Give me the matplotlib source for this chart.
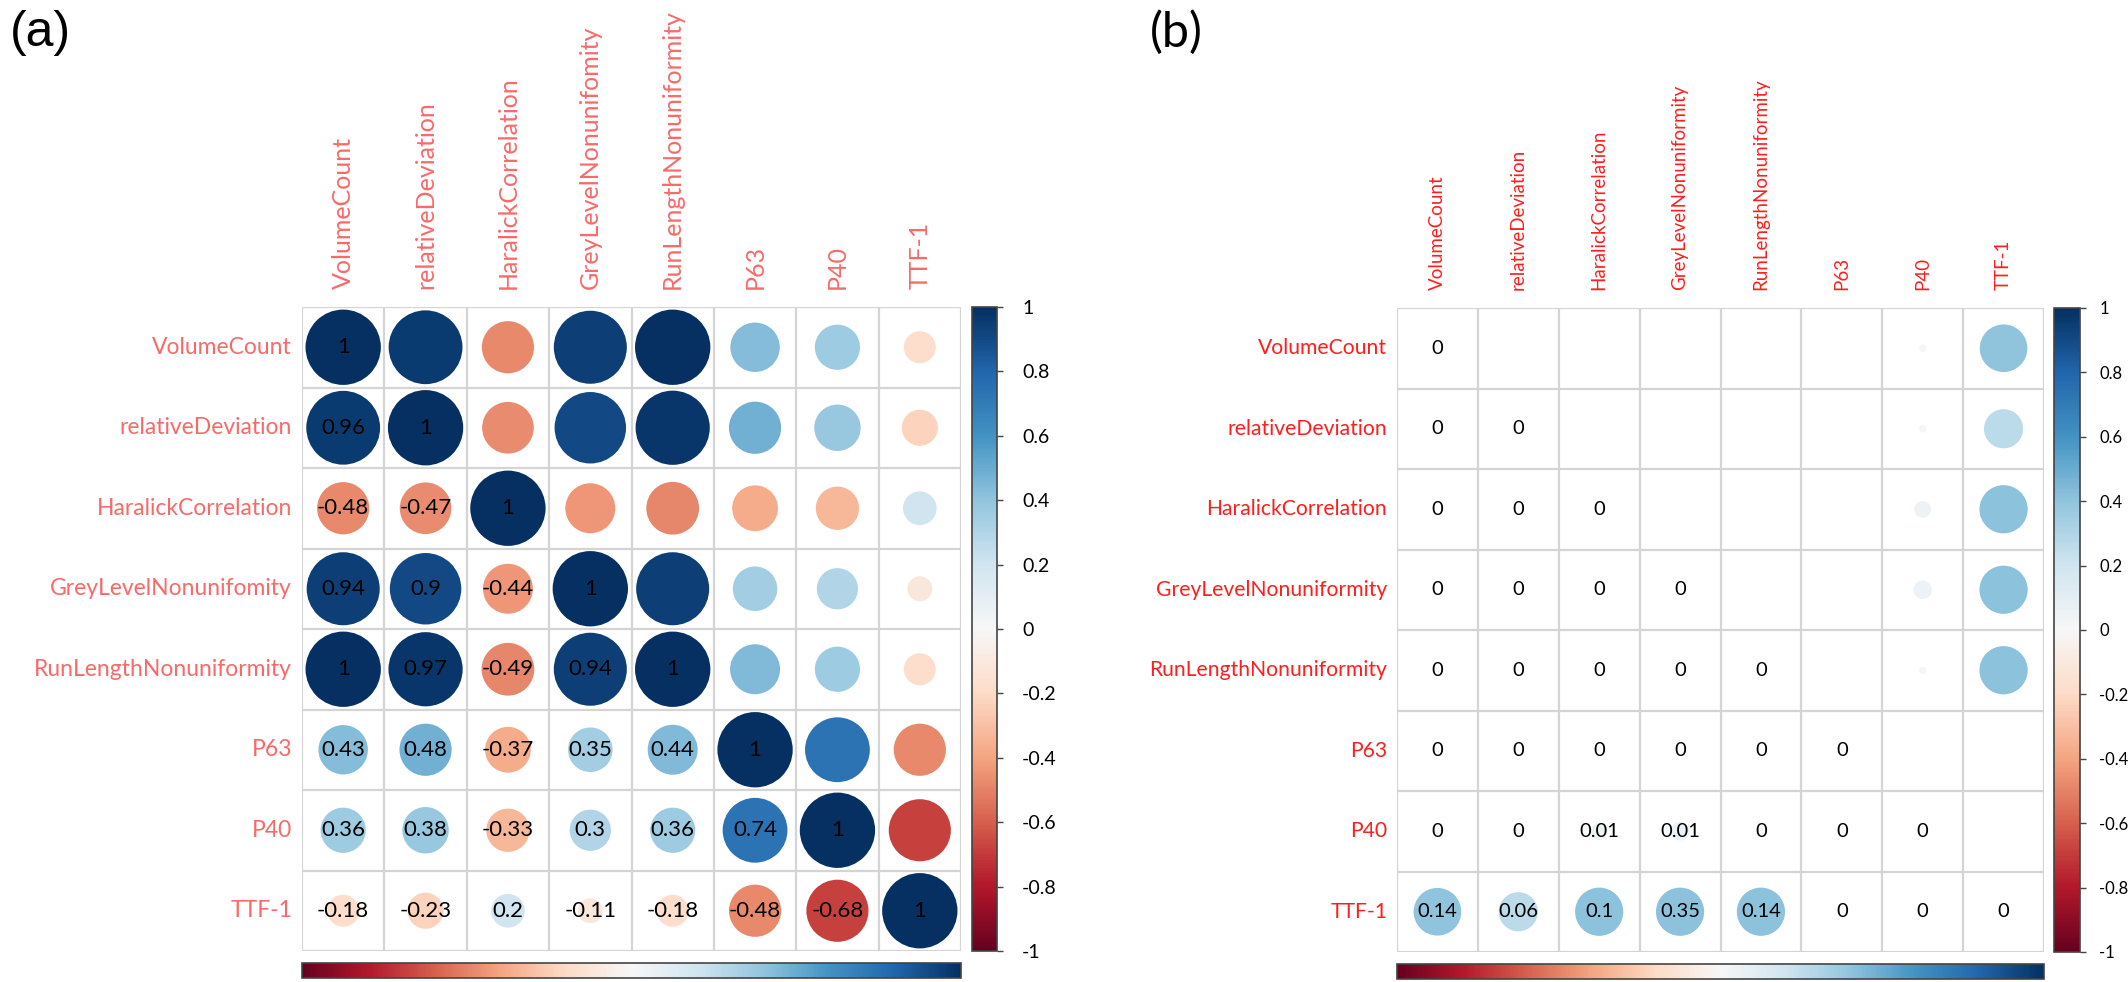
import numpy as np
import matplotlib.pyplot as plt
from matplotlib.colors import Normalize
from matplotlib.colorbar import ColorbarBase

# variable names
labels_a = ['VolumeCount', 'relativeDeviation', 'HaralickCorrelation', 'GreyLevelNonunifomity',
            'RunLengthNonuniformity', 'P63', 'P40', 'TTF-1']
labels_b = ['VolumeCount', 'relativeDeviation', 'HaralickCorrelation', 'GreyLevelNonuniformity',
            'RunLengthNonuniformity', 'P63', 'P40', 'TTF-1']

# (a) correlation coefficients, lower triangle incl. diagonal
corr_rows = [
    [1],
    [0.96, 1],
    [-0.48, -0.47, 1],
    [0.94, 0.9, -0.44, 1],
    [1, 0.97, -0.49, 0.94, 1],
    [0.43, 0.48, -0.37, 0.35, 0.44, 1],
    [0.36, 0.38, -0.33, 0.3, 0.36, 0.74, 1],
    [-0.18, -0.23, 0.2, -0.11, -0.18, -0.48, -0.68, 1],
]

# (b) p-values printed in the cells, lower triangle incl. diagonal
p_rows = [
    [0],
    [0, 0],
    [0, 0, 0],
    [0, 0, 0, 0],
    [0, 0, 0, 0, 0],
    [0, 0, 0, 0, 0, 0],
    [0, 0, 0.01, 0.01, 0, 0, 0],
    [0.14, 0.06, 0.1, 0.35, 0.14, 0, 0, 0],
]

# (b) circle strength (colour / size), lower triangle
p_circle_rows = [
    [0],
    [0, 0],
    [0, 0, 0],
    [0, 0, 0, 0],
    [0, 0, 0, 0, 0],
    [0, 0, 0, 0, 0, 0],
    [0.01, 0.01, 0.05, 0.06, 0.01, 0, 0],
    [0.4, 0.27, 0.41, 0.41, 0.41, 0, 0, 0],
]

cbar_ticks = [1, 0.8, 0.6, 0.4, 0.2, 0, -0.2, -0.4, -0.6, -0.8, -1]


def full_matrix(rows):
    n = len(rows)
    m = np.zeros((n, n))
    for i, r in enumerate(rows):
        for j, v in enumerate(r):
            m[i, j] = v
            m[j, i] = v
    return m


def fmt(v):
    s = ('%.2f' % v).rstrip('0').rstrip('.')
    return '0' if s in ('-0', '') else s


W, H = 2128, 982
fig = plt.figure(figsize=(W / 100, H / 100), dpi=100)
cmap = plt.get_cmap('RdBu')
norm = Normalize(-1, 1)
FONT = ['Lato', 'DejaVu Sans']


def px_box(x0, y0, x1, y1):
    return [x0 / W, 1 - y1 / H, (x1 - x0) / W, (y1 - y0) / H]


def draw_panel(box, mat, circ, labels, lab_color, col_size, row_size, num_size, cell_px):
    ax = fig.add_axes(px_box(*box))
    n = len(labels)
    ax.set_xlim(-0.5, n - 0.5)
    ax.set_ylim(n - 0.5, -0.5)
    for k in range(n + 1):
        ax.axhline(k - 0.5, color='#d4d4d4', lw=1.6, zorder=1)
        ax.axvline(k - 0.5, color='#d4d4d4', lw=1.6, zorder=1)
    ii, jj = np.meshgrid(np.arange(n), np.arange(n), indexing='ij')
    dmax = cell_px * 0.93 * 72 / 100
    ax.scatter(jj.ravel(), ii.ravel(), s=(dmax ** 2) * np.abs(circ.ravel()),
               c=circ.ravel(), cmap=cmap, norm=norm, edgecolors='none', zorder=2)
    for i in range(n):
        for j in range(i + 1):
            ax.text(j, i, fmt(mat[i, j]), ha='center', va='center', fontsize=num_size,
                    family=FONT, color='black', zorder=3)
    ax.set_xticks([])
    ax.set_yticks([])
    for s in ax.spines.values():
        s.set_visible(False)
    for k, lab in enumerate(labels):
        ax.text(k, -0.5 - 0.22, lab, rotation=90, ha='center', va='bottom', fontsize=col_size,
                family=FONT, color=lab_color)
        ax.text(-0.5 - 0.12, k, lab, ha='right', va='center', fontsize=row_size,
                family=FONT, color=lab_color)
    return ax


def draw_cbars(vbox, hbox, tick_size, pad):
    cax = fig.add_axes(px_box(*vbox))
    cb = ColorbarBase(cax, cmap=cmap, norm=norm, orientation='vertical', ticks=cbar_ticks)
    cb.outline.set_edgecolor('#444444')
    cb.outline.set_linewidth(1.2)
    cax.tick_params(length=4, width=1, colors='#444444', labelsize=tick_size, pad=pad,
                    labelcolor='black')
    cax.set_yticklabels([fmt(t) for t in cbar_ticks], family=FONT)
    hax = fig.add_axes(px_box(*hbox))
    hb = ColorbarBase(hax, cmap=cmap, norm=norm, orientation='horizontal', ticks=[])
    hb.outline.set_edgecolor('#444444')
    hb.outline.set_linewidth(1.2)


corr = full_matrix(corr_rows)
pval = full_matrix(p_rows)
pcirc = full_matrix(p_circle_rows)

draw_panel((302, 307, 961, 951), corr, corr, labels_a, '#f86a6a', 18, 16.5, 16, 81)
draw_cbars((972, 307, 997, 951), (302, 963, 961, 978), 14, 14)

draw_panel((1397, 308, 2044, 952), pval, pcirc, labels_b, '#ff1e1e', 13.5, 15.2, 14.5, 81)
draw_cbars((2054, 308, 2080, 952), (1397, 964, 2044, 979), 12, 10)

fig.text(10 / W, 1 - 10 / H, '(a)', ha='left', va='top', fontsize=36, family=['Liberation Sans'])
fig.text(1150 / W, 1 - 10 / H, '(b)', ha='left', va='top', fontsize=35, family=FONT)

plt.savefig('out.png', dpi=100)
